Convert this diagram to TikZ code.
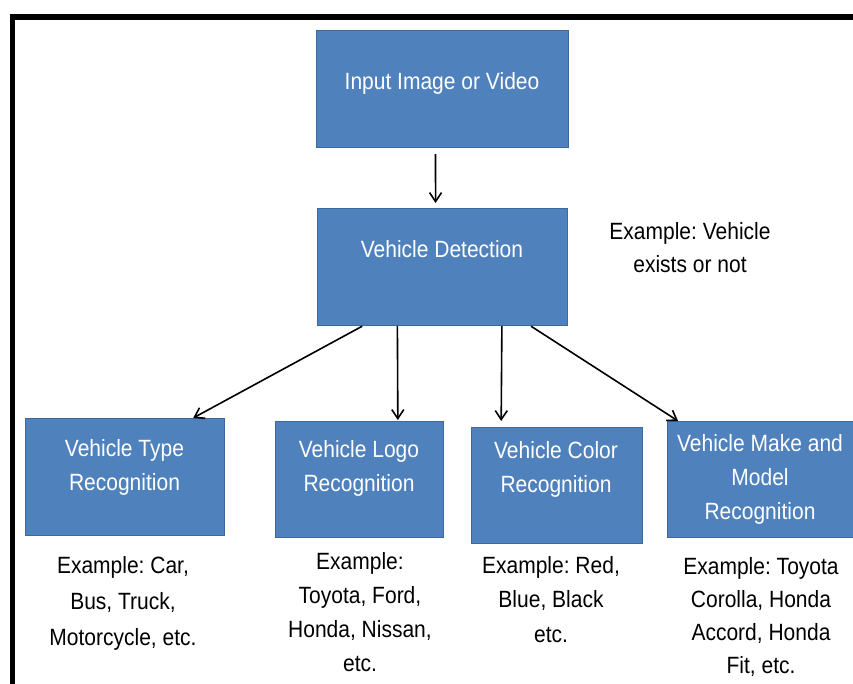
\documentclass[tikz,border=0pt]{standalone}
\usepackage{fontspec}
\usepackage{graphicx}
\setmainfont{Liberation Sans}
\frenchspacing
\usetikzlibrary{arrows.meta,calc}
\definecolor{boxblue}{HTML}{4F81BD}
\definecolor{boxedge}{HTML}{3C6A9E}

% centred lines of text, set a little taller than the font's own shape
\newcommand{\tallcell}[2][30.4]{\scalebox{1}[1.12]{\fontsize{21}{#1}\selectfont\begin{tabular}{@{}c@{}}#2\end{tabular}}}

\begin{document}
\begin{tikzpicture}[x=1pt,y=-1pt,
  stagebox/.style={draw=boxedge, line width=1.2pt, fill=boxblue, inner sep=0pt, anchor=north west},
  boxtext/.style={text=white, align=center, inner sep=0pt},
  note/.style={text=black, align=center, inner sep=0pt},
  flow/.style={draw=black, line width=1.6pt, -{Straight Barb[length=9pt,width=12pt,line width=1.6pt]}}
]
\useasboundingbox (0,0) rectangle (853,684);

% frame
\draw[line width=5.5pt] (12.3,690) -- (12.3,16.8) -- (860,16.8);

% stage boxes
\node[stagebox, minimum width=252pt, minimum height=117pt] (input) at (316,30) {};
\node[stagebox, minimum width=250pt, minimum height=117pt] (det) at (317,208) {};
\node[stagebox, minimum width=199pt, minimum height=117pt] (type) at (25,418) {};
\node[stagebox, minimum width=168pt, minimum height=116pt] (logo) at (275,421) {};
\node[stagebox, minimum width=171pt, minimum height=116pt] (color) at (471,427) {};
\node[stagebox, minimum width=190pt, minimum height=116pt] (make) at (667,421) {};

% box labels
\node[boxtext] (inputtxt) at (442,83) {\tallcell{Input Image or Video}};
\node[boxtext] (dettxt) at (442,251) {\tallcell{Vehicle Detection}};
\node[boxtext] (typetxt) at (124.5,467) {\tallcell{Vehicle Type\\Recognition}};
\node[boxtext] (logotxt) at (359,468) {\tallcell{Vehicle Logo\\Recognition}};
\node[boxtext] (colortxt) at (556,469) {\tallcell{Vehicle Color\\Recognition}};
\node[boxtext] (maketxt) at (760,479) {\tallcell{Vehicle Make and\\Model\\Recognition}};

% example notes
\node[note] (detnote) at (690,249) {\tallcell[29.5]{Example: Vehicle\\exists or not}};
\node[note] (typenote) at (123,602) {\tallcell[32]{Example: Car,\\Bus, Truck,\\Motorcycle, etc.}};
\node[note] (logonote) at (360,614) {\tallcell[30.4]{Example:\\Toyota, Ford,\\Honda, Nissan,\\etc.}};
\node[note] (colornote) at (551,601) {\tallcell[31.2]{Example: Red,\\Blue, Black\\etc.}};
\node[note] (makenote) at (761,617) {\tallcell[29.5]{Example: Toyota\\Corolla, Honda\\Accord, Honda\\Fit, etc.}};

% connectors
\draw[flow, shorten <=6pt, shorten >=5pt]
  ($(input.south west)!0.472!(input.south east)$) -- ($(det.north west)!0.472!(det.north east)$);
\draw[flow] ($(det.south west)!0.18!(det.south east)$) -- ($(type.north west)!0.84!(type.north east)$);
\draw[flow, shorten >=1pt] ($(det.south west)!0.32!(det.south east)$) -- ($(logo.north west)!0.726!(logo.north east)$);
\draw[flow, shorten >=6pt] ($(det.south west)!0.736!(det.south east)$) -- ($(color.north west)!0.175!(color.north east)$);
\draw[flow] ($(det.south west)!0.852!(det.south east)$) -- ($(make.north west)!0.058!(make.north east)$);
\end{tikzpicture}
\end{document}
